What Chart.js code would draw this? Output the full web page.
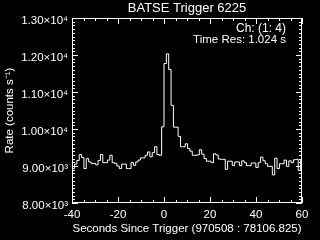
<!DOCTYPE html>
<html>
<head>
<meta charset="utf-8">
<script src="https://cdn.jsdelivr.net/npm/chart.js@4.4.0/dist/chart.umd.min.js"></script>
<style>
  html, body { margin: 0; padding: 0; background: #000; }
</style>
</head>
<body>
<canvas id="batse" width="320" height="240"></canvas>
<script>
// BATSE trigger 6225, channels 1-4, 1.024 s bins
var binWidth = 1.024;
var firstBin = -40; // bin k starts at t = k * binWidth
var rates = [
  8930, 8930, 9050, 9150, 9310, 9230, 8930, 9200, 9110, 9070,
  9070, 9030, 9150, 9310, 9090, 9090, 9160, 9290, 9090, 9070,
  9000, 8930, 9050, 9050, 8930, 8930, 9090, 9020, 9110, 9160,
  9220, 9220, 9290, 9380, 9250, 9360, 9520, 9310, 9290, 10060,
  11770, 12030, 11610, 10640, 10050, 10050, 9800, 9520, 9520, 9600,
  9470, 9400, 9290, 9290, 9300, 9440, 9320, 9200, 9130, 9130,
  9090, 9330, 9300, 9190, 9180, 9180, 8910, 9130, 9130, 9010,
  9110, 9110, 9010, 9140, 9090, 9010, 9010, 9080, 9080, 8960,
  9090, 9240, 9140, 9060, 8990, 8990, 8760, 9210, 8930, 9060,
  9060, 9160, 8990, 9140, 9090, 9170, 9180, 8880, 9180
];
var xTicks = [-40, -20, 0, 20, 40, 60];
var yTicks = [8000, 9000, 10000, 11000, 12000, 13000];
var xMinor = 5;
var yMinor = 100;
var notes = ["Ch: (1: 4)", "Time Res: 1.024 s"];

var FONT = "'Liberation Sans', Arial, sans-serif";
var sup = { 3: "\u00b3", 4: "\u2074" };

function sciLabel(v) {
  var exp = Math.floor(Math.log10(v));
  return (v / Math.pow(10, exp)).toFixed(2) + "\u00d710" + sup[exp];
}

// step histogram: one point at the start of each bin, plus the closing edge
var points = rates.map(function(r, i) {
  return { x: (firstBin + i) * binWidth, y: r };
});
points.push({ x: (firstBin + rates.length) * binWidth, y: rates[rates.length - 1] });

// box with inward ticks on all four sides, plus the two notes
var frame = {
  id: "frame",
  afterDraw: function(chart) {
    var ctx = chart.ctx, a = chart.chartArea;
    var xs = chart.scales.x, ys = chart.scales.y;
    var v, p, len;
    ctx.save();
    ctx.strokeStyle = "#fff";
    ctx.lineWidth = 1;
    ctx.strokeRect(a.left + 0.5, a.top + 0.5, a.right - a.left - 1, a.bottom - a.top - 1);
    ctx.beginPath();
    for (v = xs.min; v <= xs.max; v += xMinor) {
      p = Math.round(xs.getPixelForValue(v)) + 0.5;
      len = xTicks.indexOf(v) >= 0 ? 6 : 3;
      ctx.moveTo(p, a.bottom); ctx.lineTo(p, a.bottom - len);
      ctx.moveTo(p, a.top); ctx.lineTo(p, a.top + len);
    }
    for (v = ys.min; v <= ys.max; v += yMinor) {
      p = Math.round(ys.getPixelForValue(v)) + 0.5;
      len = yTicks.indexOf(v) >= 0 ? 6 : 3;
      ctx.moveTo(a.left, p); ctx.lineTo(a.left + len, p);
      ctx.moveTo(a.right, p); ctx.lineTo(a.right - len, p);
    }
    ctx.stroke();
    ctx.fillStyle = "#fff";
    ctx.textAlign = "right";
    ctx.font = "12px " + FONT;
    ctx.fillText(notes[0], a.right - 16, a.top + 14);
    ctx.font = "11.5px " + FONT;
    ctx.fillText(notes[1], a.right - 16, a.top + 24.5);
    ctx.restore();
  }
};

new Chart(document.getElementById("batse"), {
  type: "line",
  data: {
    datasets: [{
      data: points,
      borderColor: "#fff",
      borderWidth: 1,
      pointRadius: 0,
      stepped: true,
      fill: false
    }]
  },
  options: {
    responsive: false,
    animation: false,
    devicePixelRatio: 1,
    layout: { padding: { right: 18 } },
    plugins: {
      legend: { display: false },
      tooltip: { enabled: false },
      title: {
        display: true,
        text: "BATSE Trigger 6225",
        color: "#fff",
        fullSize: false,
        font: { family: FONT, size: 13, weight: "normal" },
        padding: { top: 1, bottom: 1.4 }
      }
    },
    scales: {
      x: {
        type: "linear",
        min: -40,
        max: 60,
        afterBuildTicks: function(scale) {
          scale.ticks = xTicks.map(function(v) { return { value: v }; });
        },
        afterFit: function(scale) { scale.height = 37; },
        grid: { display: false, drawTicks: false },
        border: { display: false },
        ticks: {
          color: "#fff",
          font: { family: FONT, size: 11.5 },
          padding: 5,
          maxRotation: 0,
          autoSkip: false,
          callback: function(v) { return String(v); }
        },
        title: {
          display: true,
          text: "Seconds Since Trigger (970508 : 78106.825)",
          color: "#fff",
          font: { family: FONT, size: 11.5 },
          padding: { top: 0, bottom: 4 }
        }
      },
      y: {
        min: 8000,
        max: 13000,
        afterBuildTicks: function(scale) {
          scale.ticks = yTicks.map(function(v) { return { value: v }; });
        },
        afterFit: function(scale) { scale.width = 72; },
        grid: { display: false, drawTicks: false },
        border: { display: false },
        ticks: {
          color: "#fff",
          font: { family: FONT, size: 11.5 },
          padding: 4,
          labelOffset: 3,
          callback: function(v) { return sciLabel(v); }
        },
        title: {
          display: true,
          text: "Rate (counts s\u207b\u00b9)",
          color: "#fff",
          font: { family: FONT, size: 11.5 },
          padding: { top: 3, bottom: 0 }
        }
      }
    }
  },
  plugins: [frame]
});
</script>
</body>
</html>
